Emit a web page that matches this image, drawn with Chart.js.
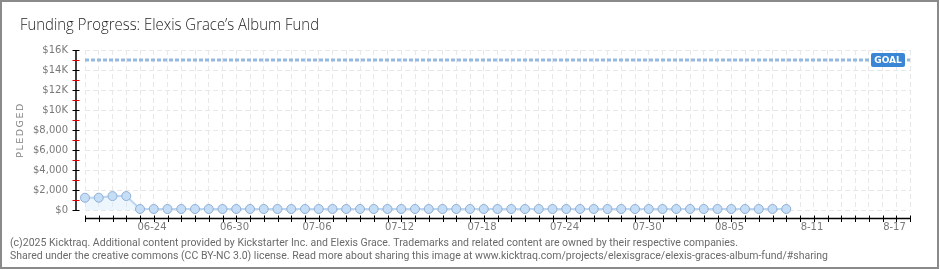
<!DOCTYPE html>
<html>
<head>
<meta charset="utf-8">
<script src="https://cdn.jsdelivr.net/npm/chart.js@4.4.1/dist/chart.umd.min.js"></script>
<style>
  html, body { margin: 0; padding: 0; background: #fff; }
  #wrap { width: 940px; height: 270px; position: relative; }
</style>
</head>
<body>
<div id="wrap"><canvas id="chart"></canvas></div>
<script>
// one category per day of the campaign window
const days = [
  '06-20','06-21','06-22','06-23','06-24','06-25','06-26','06-27','06-28','06-29',
  '06-30','07-01','07-02','07-03','07-04','07-05','07-06','07-07','07-08','07-09',
  '07-10','07-11','07-12','07-13','07-14','07-15','07-16','07-17','07-18','07-19',
  '07-20','07-21','07-22','07-23','07-24','07-25','07-26','07-27','07-28','07-29',
  '07-30','07-31','08-01','08-02','08-03','08-04','08-05','08-06','08-07','08-08',
  '08-09','08-10','08-11','08-12','08-13','08-14','08-15','08-16','08-17','08-18',
  '08-19'
]
const tickDays   = ['06-24','06-30','07-06','07-12','07-18','07-24','07-30','08-05','08-11','08-17']
const tickLabels = ['06-24','06-30','07-06','07-12','07-18','07-24','07-30','08-05','8-11','8-17']

const pledged = [
  1225, 1230, 1390, 1395, 100, 100, 100, 100, 100, 100,
  100, 100, 100, 100, 100, 100, 100, 100, 100, 100,
  100, 100, 100, 100, 100, 100, 100, 100, 100, 100,
  100, 100, 100, 100, 100, 100, 100, 100, 100, 100,
  100, 100, 100, 100, 100, 100, 100, 100, 100, 100,
  100, 100
]
const goal = 15000

const yTickText = { 0: '$0', 2000: '$2,000', 4000: '$4,000', 6000: '$6,000', 8000: '$8,000',
  10000: '$10K', 12000: '$12K', 14000: '$14K', 16000: '$16K' }

const title = "Funding Progress: Elexis Grace\u2019s Album Fund"
const footer = [
  '(c)2025 Kicktraq. Additional content provided by Kickstarter Inc. and Elexis Grace. Trademarks and related content are owned by their respective companies.',
  'Shared under the creative commons (CC BY-NC 3.0) license. Read more about sharing this image at www.kicktraq.com/projects/elexisgrace/elexis-graces-album-fund/#sharing'
]

const tickFont = { family: 'DejaVu Sans', size: 10 }

// draw text squeezed to a given width (the original uses a narrow face)
function narrowText(ctx, text, x, y, w) {
  const m = ctx.measureText(text).width
  ctx.save()
  ctx.translate(x, y)
  ctx.scale(w / m, 1)
  ctx.fillText(text, 0, 0)
  ctx.restore()
}

// axes, title, goal badge and footer
const decor = {
  id: 'decor',
  afterDraw(chart) {
    const ctx = chart.ctx
    const x = chart.scales.x
    const y = chart.scales.y
    const area = chart.chartArea
    ctx.save()

    // y axis with red half ticks
    const ax = area.left - 9
    ctx.lineWidth = 1.5
    ctx.strokeStyle = '#000'
    ctx.beginPath()
    ctx.moveTo(ax, y.getPixelForValue(16000))
    ctx.lineTo(ax, y.getPixelForValue(0))
    ctx.stroke()
    for (let v = 0; v <= 16000; v += 1000) {
      const py = Math.round(y.getPixelForValue(v)) + 0.5
      ctx.strokeStyle = v % 2000 === 0 ? '#000' : '#e00000'
      ctx.lineWidth = 1
      ctx.beginPath()
      ctx.moveTo(ax - 3.5, py)
      ctx.lineTo(ax + 3.5, py)
      ctx.stroke()
    }

    // x axis with day ticks
    const ay = area.bottom + 8.5
    ctx.strokeStyle = '#000'
    ctx.lineWidth = 1.5
    ctx.beginPath()
    ctx.moveTo(x.getPixelForValue(0), ay)
    ctx.lineTo(x.getPixelForValue(days.length - 1), ay)
    ctx.stroke()
    ctx.lineWidth = 1
    days.forEach((d, i) => {
      const px = Math.round(x.getPixelForValue(i)) + 0.5
      ctx.beginPath()
      ctx.moveTo(px, ay - 3)
      ctx.lineTo(px, ay + 3.5)
      ctx.stroke()
    })

    // goal badge
    const gy = y.getPixelForValue(goal)
    const gx = x.getPixelForValue(days.length - 1) - 39
    ctx.fillStyle = '#3a86d5'
    ctx.beginPath()
    ctx.roundRect(gx, gy - 7, 34, 14, 2)
    ctx.fill()
    ctx.fillStyle = '#fff'
    ctx.font = 'bold 9px "DejaVu Sans"'
    ctx.textAlign = 'center'
    ctx.textBaseline = 'middle'
    ctx.fillText('GOAL', gx + 17, gy + 0.5)

    // y axis title
    ctx.save()
    ctx.translate(21, (area.top + area.bottom) / 2)
    ctx.rotate(-Math.PI / 2)
    ctx.fillStyle = '#808080'
    ctx.font = '9.5px "DejaVu Sans"'
    ctx.letterSpacing = '1.5px'
    ctx.fillText('PLEDGED', 0, 0)
    ctx.restore()

    // title
    ctx.textAlign = 'left'
    ctx.textBaseline = 'alphabetic'
    ctx.fillStyle = '#1e1e1e'
    ctx.font = '300 17px "Open Sans", "DejaVu Sans", sans-serif'
    narrowText(ctx, title, 20, 30, 299)

    // footer
    ctx.fillStyle = '#6a6a6a'
    ctx.font = '11px "Roboto", "DejaVu Sans", sans-serif'
    narrowText(ctx, footer[0], 10, 246, 728)
    narrowText(ctx, footer[1], 10, 259, 818)

    // frame
    ctx.strokeStyle = '#8a8a8a'
    ctx.lineWidth = 2
    ctx.strokeRect(1, 1, 937, 267)
    ctx.restore()
  }
}

new Chart(document.getElementById('chart'), {
  type: 'line',
  data: {
    labels: days,
    datasets: [
      {
        label: 'Goal',
        data: days.map(() => goal),
        borderColor: '#94b9e2',
        borderWidth: 3,
        borderDash: [4, 2],
        pointRadius: 0,
        fill: false
      },
      {
        label: 'Pledged',
        data: pledged,
        clip: false,
        borderColor: '#bcd6f2',
        borderWidth: 2,
        backgroundColor: 'rgba(214, 232, 250, 0.45)',
        fill: 'origin',
        tension: 0,
        pointRadius: 4.5,
        pointBackgroundColor: '#c6ddf6',
        pointBorderColor: '#8eafd6',
        pointBorderWidth: 1
      }
    ]
  },
  options: {
    responsive: true,
    maintainAspectRatio: false,
    animation: false,
    events: [],
    layout: { padding: { top: 50, right: 30, bottom: 0, left: 0 } },
    plugins: {
      legend: { display: false },
      tooltip: { enabled: false }
    },
    scales: {
      x: {
        offset: false,
        afterFit: s => { s.height = 60 },
        grid: { color: '#e8e8e8', drawTicks: false },
        border: { display: false, dash: [5, 3] },
        ticks: {
          autoSkip: false,
          maxRotation: 0,
          padding: 11,
          labelOffset: 12,
          color: '#7a7a7a',
          font: tickFont,
          callback: (v, i) => {
            const k = tickDays.indexOf(days[i])
            return k < 0 ? '' : tickLabels[k]
          }
        }
      },
      y: {
        min: 0,
        max: 16000,
        afterFit: s => { s.width = 85 },
        grid: { color: '#e8e8e8', drawTicks: false },
        border: { display: false, dash: [5, 3] },
        ticks: {
          stepSize: 2000,
          padding: 17,
          color: '#7a7a7a',
          font: tickFont,
          callback: v => yTickText[v]
        }
      }
    }
  },
  plugins: [decor]
})
</script>
</body>
</html>
